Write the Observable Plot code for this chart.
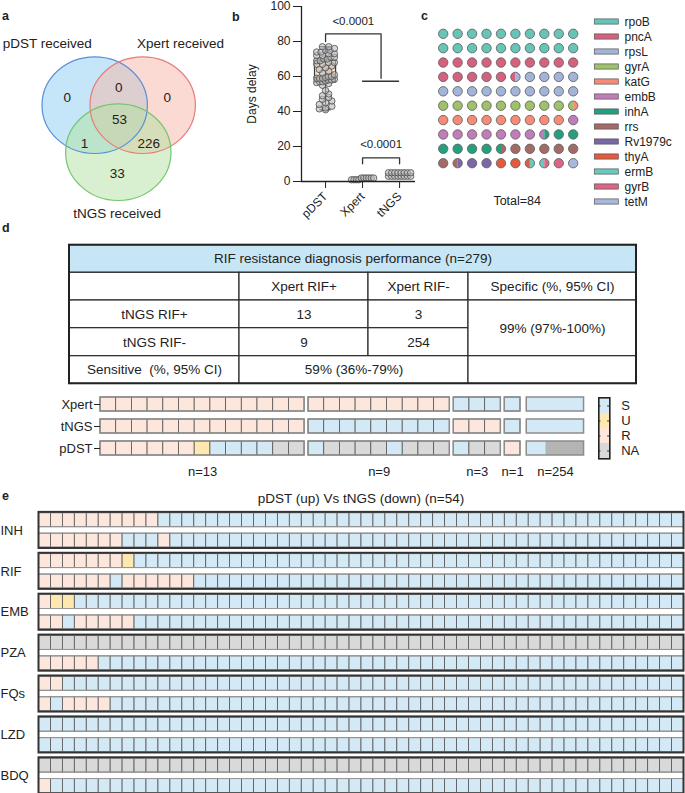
<!DOCTYPE html>
<html><head><meta charset="utf-8">
<script src="https://cdn.jsdelivr.net/npm/d3@7"></script>
<script src="https://cdn.jsdelivr.net/npm/@observablehq/plot@0.6"></script>
<style>
body{margin:0;background:#fff;}
#fig{position:relative;width:685px;height:793px;overflow:hidden;font-family:"Liberation Sans",Arial,Helvetica,sans-serif;color:#222;background:#fff;}
</style></head><body><div id="fig"></div>
<script>
// ================= DATA =================
// Panel a (Venn)
const vennSets = ["pDST received", "Xpert received", "tNGS received"];
const vennRegions = ["pDST only", "pDST & Xpert", "Xpert only", "all three", "pDST & tNGS", "Xpert & tNGS", "tNGS only"];
const vennCounts = [0, 0, 0, 53, 1, 226, 33];

// Panel b (days delay)
const boxCats = ["pDST", "Xpert", "tNGS"];
const pdstDays = [41,41.5,42,43,44,45,46,47,48,49,50,52,55,56,56.5,57,57,57.5,58,58,58.5,59,59,59,59.5,60,60,61,62,63,64,65,66,67,67,68,68,69,69,70,70,71,71,72,72,73,73,74,74,75,75,76,77,77];
const xpertDays = [1,1,1,1,2,2,2,2,2,2];
const tngsDays = [3,3,3,3,3,3,3,3,5,5,5,5,5,5,5,5];
const pdstBox = {min: 41, q1: 56.6, median: 59.4, q3: 69, max: 77};
const pValues = ["<0.0001", "<0.0001"];

// Panel c (mutated genes, % of 100 dots)
const genes = ["rpoB","pncA","rpsL","gyrA","katG","embB","inhA","rrs","Rv1979c","thyA","ermB","gyrB","tetM"];
const genePercent = [20, 15.5, 14.5, 9.5, 9.5, 8.5, 7, 7, 2.5, 2.5, 1, 1.5, 1];
const totalLabel = "Total=84";

// Panel d (table)
const tblTitle = "RIF resistance diagnosis performance (n=279)";
const tblColHeads = ["Xpert RIF+", "Xpert RIF-"];
const tblRowHeads = ["tNGS RIF+", "tNGS RIF-"];
const tblCounts = [[13, 3], [9, 254]];
const tblSpecific = ["Specific (%, 95% CI)", "99% (97%-100%)"];
const tblSensitive = ["Sensitive\u00a0 (%, 95% CI)", "59% (36%-79%)"];

// Panel d (heat strip)
const heatRows = ["Xpert", "tNGS", "pDST"];
const heatGroupCounts = [13, 9, 3, 1, 254];
const heatXpert = ["RRRRRRRRRRRRR", "RRRRRRRRR", "SSS", "S", "S"];
const heatTngs  = ["RRRRRRRRRRRRR", "SSSSSSSSS", "RRR", "S", "S"];
const heatPdst  = ["RRRRRRUSSSSNN", "SNNNNSNNN", "SNN", "R", "SNN"];
const statusDomain = ["S", "U", "R", "NA"];

// Panel e
const drugs = ["INH", "RIF", "EMB", "PZA", "FQs", "LZD", "BDQ"];
const pdstRuns = ["10R 44S", "7R 1U 46S", "1R 2U 51S", "54NA", "2R 52S", "54S", "54NA"];
const tngsRuns = ["7R 3S 1R 43S", "6R 1S 6R 41S", "2R 1S 5R 46S", "5R 49S", "1R 1S 4R 48S", "54S", "1R 53S"];
const eTitle = "pDST (up) Vs tNGS (down) (n=54)";

// ================= STYLES / LAYOUT =================
const FONT = '"Liberation Sans", Arial, Helvetica, sans-serif';
const baseStyle = {fontFamily: FONT, fontSize: "12px", color: "#222", background: "transparent"};
const vennFill = ["#8ccdf2", "#f6b5a5", "#b2e2a0"];
const vennStroke = ["#5a8fd8", "#e87c7c", "#75c56f"];
const geneColors = ["#66c5b8","#d6617f","#a3b4db","#9dc26a","#f98a76","#c17dba","#23a07f","#a46a65","#7a67a8","#e35b3e","#65cbbd","#dc6486","#a7b8de"];
const statusColors = ["#d3e9f6", "#fde8b0", "#fde7dd", "#d9d9d9"];
const statusScale = {domain: statusDomain, range: statusColors};

const fig = document.getElementById("fig");
function place(svg, left, top) {
  svg.style.position = "absolute";
  svg.style.left = left + "px";
  svg.style.top = top + "px";
  svg.style.maxWidth = "none";
  svg.style.overflow = "visible";
  svg.style.background = "transparent";
  fig.appendChild(svg);
}
function htmlText(text, left, baseline, size, weight, width, align) {
  const d = document.createElement("div");
  d.textContent = text;
  d.style.cssText = `position:absolute;left:${left}px;top:${baseline - size * 0.85}px;font-size:${size}px;font-weight:${weight};line-height:${size}px;white-space:nowrap;font-family:${FONT};` + (width ? `width:${width}px;text-align:${align};` : "");
  fig.appendChild(d);
}

// ================= PANEL A =================
const VL = {cx: [94.2, 142.2, 117.8], cy: [104.7, 104.7, 151.7], rx: 52.7, ry: 48.3,
  setX: [46.7, 180, 116.7], setY: [43.3, 43.3, 212.7],
  regX: [66.7, 118.3, 166.7, 119, 84, 148.3, 116.7], regY: [97.3, 87.3, 96.7, 119, 142.7, 143.3, 172.7]};
const ellipseSymbol = {
  draw(ctx, size) {
    const rx = Math.sqrt(size / Math.PI), ry = rx * VL.ry / VL.rx, k = 0.5523;
    ctx.moveTo(rx, 0);
    ctx.bezierCurveTo(rx, ry * k, rx * k, ry, 0, ry);
    ctx.bezierCurveTo(-rx * k, ry, -rx, ry * k, -rx, 0);
    ctx.bezierCurveTo(-rx, -ry * k, -rx * k, -ry, 0, -ry);
    ctx.bezierCurveTo(rx * k, -ry, rx, -ry * k, rx, 0);
    ctx.closePath();
  }
};
place(Plot.plot({
  width: 230, height: 225, margin: 0, style: baseStyle,
  x: {type: "linear", domain: [0, 230], range: [0, 230], axis: null},
  y: {type: "linear", domain: [0, 225], range: [0, 225], axis: null},
  color: {type: "identity"},
  marks: [
    Plot.dot(vennSets, {x: (d, i) => VL.cx[i], y: (d, i) => VL.cy[i], r: VL.rx, symbol: ellipseSymbol, fill: (d, i) => vennFill[i], fillOpacity: 0.5}),
    Plot.dot(vennSets, {x: (d, i) => VL.cx[i], y: (d, i) => VL.cy[i], r: VL.rx, symbol: ellipseSymbol, fill: "none", stroke: (d, i) => vennStroke[i], strokeWidth: 1.2}),
    Plot.text(vennSets, {x: (d, i) => VL.setX[i], y: (d, i) => VL.setY[i], text: d => d, fontSize: 13.5, fill: "#222"}),
    Plot.text(vennCounts, {x: (d, i) => VL.regX[i], y: (d, i) => VL.regY[i], text: d => String(d), fontSize: 13.5, fill: "#222"})
  ]
}), 0, 0);

// ================= PANEL B =================
const BL = {half: 0.285, cap: 0.15, xmin: 0.35, xmax: 3.43};
function swarm(values, ci, bin, step, half) {
  const out = [];
  for (const [, vs] of d3.groups(values, v => Math.round(v / bin))) {
    const n = vs.length, s = n > 1 ? Math.min(step, 2 * half / (n - 1)) : 0;
    vs.forEach((v, j) => out.push({cat: boxCats[ci], x: ci + 1 + (j - (n - 1) / 2) * s, v}));
  }
  return out;
}
const bPoints = [...swarm(pdstDays, 0, 2.5, 0.17, 0.24), ...swarm(xpertDays, 1, 10, 0.1, 0.3), ...swarm(tngsDays, 2, 2, 0.1, 0.3)];
const bracket1 = [{x: 1, y: 80}, {x: 1, y: 84.4}, {x: 2.5, y: 84.4}, {x: 2.5, y: 59}];
const bracket2 = [{x: 2, y: 10.1}, {x: 2, y: 13.5}, {x: 3, y: 13.5}, {x: 3, y: 10.1}];
place(Plot.plot({
  width: 200, height: 215, marginLeft: 71, marginRight: 15, marginTop: 6, marginBottom: 34, style: baseStyle,
  x: {domain: [BL.xmin, BL.xmax]},
  y: {domain: [0, 100]},
  marks: [
    Plot.rect([pdstBox], {x1: 1 - BL.half, x2: 1 + BL.half, y1: "q1", y2: "q3", fill: "#fbe1c4", stroke: "#3a3a3a", strokeWidth: 1.2}),
    Plot.ruleX([pdstBox], {x: 1, y1: "min", y2: "q1", stroke: "#333", strokeWidth: 1.2}),
    Plot.ruleX([pdstBox], {x: 1, y1: "q3", y2: "max", stroke: "#333", strokeWidth: 1.2}),
    Plot.ruleY([pdstBox.min, pdstBox.max], {x1: 1 - BL.cap, x2: 1 + BL.cap, stroke: "#333", strokeWidth: 1.2}),
    Plot.ruleY([pdstBox.median], {x1: 1 - BL.half, x2: 1 + BL.half, stroke: "#333", strokeWidth: 1.6}),
    Plot.dot(bPoints, {x: "x", y: "v", r: 3.2, fill: "#bdbdbd", fillOpacity: 0.6, stroke: "#4d4d4d", strokeWidth: 0.8}),
    Plot.ruleX([BL.xmin], {y1: 0, y2: 100, stroke: "#222", strokeWidth: 1.3}),
    Plot.ruleY([0], {x1: BL.xmin, x2: BL.xmax, stroke: "#222", strokeWidth: 1.3}),
    Plot.axisY({ticks: d3.range(0, 101, 20), tickSize: 8, tickPadding: 3, fontSize: 12, label: "Days delay", labelAnchor: "center", labelOffset: 54, labelArrow: "none"}),
    Plot.axisX({ticks: [1, 2, 3], tickFormat: i => boxCats[i - 1], tickRotate: -45, tickSize: 7, fontSize: 12, label: null}),
    Plot.line(bracket1, {x: "x", y: "y", stroke: "#333", strokeWidth: 1.3}),
    Plot.ruleY([57.3], {x1: 2, x2: 3, stroke: "#333", strokeWidth: 1.3}),
    Plot.line(bracket2, {x: "x", y: "y", stroke: "#333", strokeWidth: 1.3}),
    Plot.text([pValues[0]], {x: 1.75, y: 91.5, text: d => d, fontSize: 11.5, fill: "#222"}),
    Plot.text([pValues[1]], {x: 2.5, y: 21.3, text: d => d, fontSize: 11.5, fill: "#222"})
  ]
}), 230, 0);

// ================= PANEL C =================
const halves = [];
genes.forEach((g, i) => { for (let k = 0; k < genePercent[i] * 2; k++) halves.push(g); });
const waffle = d3.range(halves.length / 2).map(d => ({col: d % 10, row: Math.floor(d / 10), left: halves[2 * d], right: halves[2 * d + 1]}));
const fullDots = waffle.filter(d => d.left === d.right);
const splitDots = waffle.filter(d => d.left !== d.right);
const leftHalf = {draw(ctx, size) { const r = Math.sqrt(size / Math.PI); ctx.moveTo(0, -r); ctx.arc(0, 0, r, -Math.PI / 2, Math.PI / 2, true); ctx.closePath(); }};
const rightHalf = {draw(ctx, size) { const r = Math.sqrt(size / Math.PI); ctx.moveTo(0, -r); ctx.arc(0, 0, r, -Math.PI / 2, Math.PI / 2, false); ctx.closePath(); }};
const CR = 4.7;
place(Plot.plot({
  width: 170, height: 215, marginLeft: 22.7, marginRight: 17.3, marginTop: 0, marginBottom: 15, style: baseStyle,
  x: {domain: [0, 9], range: [22.7, 152.7], axis: null},
  y: {domain: [0, 9], range: [33.3, 162.7], axis: null},
  color: {domain: genes, range: geneColors},
  marks: [
    Plot.dot(fullDots, {x: "col", y: "row", r: CR, fill: "left"}),
    Plot.dot(splitDots, {x: "col", y: "row", r: CR, fill: "left", symbol: leftHalf}),
    Plot.dot(splitDots, {x: "col", y: "row", r: CR, fill: "right", symbol: rightHalf}),
    Plot.dot(waffle, {x: "col", y: "row", r: CR, fill: "none", stroke: "#666", strokeWidth: 0.9}),
    Plot.text([totalLabel], {frameAnchor: "bottom", lineAnchor: "middle", text: d => d, dx: 9, fontSize: 12.5, fill: "#222"})
  ]
}), 420, 0);

// legend c
place(Plot.plot({
  width: 95, height: 215, margin: 0, style: baseStyle,
  x: {domain: [0, 95], range: [0, 95], axis: null},
  y: {domain: genes, range: [7.75, 214.65], padding: 0, axis: null},
  color: {domain: genes, range: geneColors},
  marks: [
    Plot.barX(genes, {x1: 4.3, x2: 28.3, y: d => d, fill: d => d, stroke: "#555", strokeWidth: 0.7, insetTop: 4.9, insetBottom: 4.9}),
    Plot.text(genes, {x: 34, y: d => d, text: d => d, textAnchor: "start", fontSize: 12, fill: "#222"})
  ]
}), 590, 0);

// ================= PANEL D TABLE =================
const TL = {colPx: [69, 239, 368, 468, 636], rowPx: [4.7, 32.3, 60, 87.7, 115.7, 143.3]};
const tCells = [
  {c1: 0, c2: 4, r1: 0, r2: 1, text: tblTitle, head: true},
  {c1: 0, c2: 1, r1: 1, r2: 2, text: ""},
  {c1: 1, c2: 2, r1: 1, r2: 2, text: tblColHeads[0]},
  {c1: 2, c2: 3, r1: 1, r2: 2, text: tblColHeads[1]},
  {c1: 3, c2: 4, r1: 1, r2: 2, text: tblSpecific[0]}
];
tblRowHeads.forEach((h, i) => {
  tCells.push({c1: 0, c2: 1, r1: 2 + i, r2: 3 + i, text: h});
  tblCounts[i].forEach((v, j) => tCells.push({c1: 1 + j, c2: 2 + j, r1: 2 + i, r2: 3 + i, text: String(v)}));
});
tCells.push({c1: 3, c2: 4, r1: 2, r2: 4, text: tblSpecific[1]});
tCells.push({c1: 0, c2: 1, r1: 4, r2: 5, text: tblSensitive[0]});
tCells.push({c1: 1, c2: 3, r1: 4, r2: 5, text: tblSensitive[1]});
tCells.push({c1: 3, c2: 4, r1: 4, r2: 5, text: ""});
const tsx = d3.scaleLinear(d3.range(5), TL.colPx), tsy = d3.scaleLinear(d3.range(6), TL.rowPx);
const midX = d => tsx.invert((tsx(d.c1) + tsx(d.c2)) / 2), midY = d => tsy.invert((tsy(d.r1) + tsy(d.r2)) / 2);
place(Plot.plot({
  width: 685, height: 150, margin: 0, style: baseStyle,
  x: {type: "linear", domain: d3.range(5), range: TL.colPx, axis: null},
  y: {type: "linear", domain: d3.range(6), range: TL.rowPx, axis: null},
  color: {type: "identity"},
  marks: [
    Plot.rect(tCells, {x1: "c1", x2: "c2", y1: "r1", y2: "r2", fill: d => d.head ? "#c7e6f5" : "#ffffff", stroke: "#2b2b2b", strokeWidth: 1.2}),
    Plot.rect([tblTitle], {x1: 0, x2: 4, y1: 0, y2: 5, fill: "none", stroke: "#222", strokeWidth: 2}),
    Plot.text(tCells, {x: midX, y: midY, text: "text", fontSize: 13.5, fill: "#222"})
  ]
}), 0, 240);

// ================= PANEL D HEAT STRIP =================
const HL = {gap: 0.25, aggGap: 0.4, aggWidth: 3.65};
const code = c => c === "N" ? "NA" : c;
const hGroups = [];
let hpos = 0;
heatGroupCounts.forEach((n, k) => {
  const agg = n !== heatXpert[k].length;
  if (k > 0) hpos += agg ? HL.aggGap : HL.gap;
  const w = agg ? HL.aggWidth : n;
  hGroups.push({k, n, agg, x1: hpos, x2: hpos + w, label: `n=${n}`});
  hpos += w;
});
const hCells = [], hSegs = [], hOutlines = [];
[heatXpert, heatTngs, heatPdst].forEach((arr, ri) => {
  const row = heatRows[ri];
  hGroups.forEach(G => {
    const s = arr[G.k];
    hOutlines.push({row, x1: G.x1, x2: G.x2});
    if (!G.agg) {
      [...s].forEach((c, i) => hCells.push({row, x1: G.x1 + i, x2: G.x1 + i + 1, status: code(c)}));
    } else {
      const w = (G.x2 - G.x1) / s.length;
      let i = 0;
      while (i < s.length) { let j = i; while (j < s.length && s[j] === s[i]) j++; hSegs.push({row, x1: G.x1 + i * w, x2: G.x1 + j * w, status: code(s[i])}); i = j; }
    }
  });
});
place(Plot.plot({
  width: 590, height: 100, marginLeft: 100, marginRight: 3.3, marginTop: 0, marginBottom: 14, style: baseStyle,
  x: {domain: [0, 31], axis: null},
  y: {domain: heatRows, range: [4.6, 78.4], padding: 0.35},
  color: statusScale,
  marks: [
    Plot.barX(hCells, {x1: "x1", x2: "x2", y: "row", fill: "status", stroke: "#555", strokeWidth: 0.8}),
    Plot.barX(hSegs, {x1: "x1", x2: "x2", y: "row", fill: "status"}),
    Plot.barX(hSegs.filter(d => d.status === "NA"), {x1: "x1", x2: "x2", y: "row", fill: "#000", fillOpacity: 0.17}),
    Plot.barX(hOutlines, {x1: "x1", x2: "x2", y: "row", fill: "none", stroke: "#8c8c8c", strokeWidth: 1.5}),
    Plot.axisY({tickSize: 6, tickPadding: 2, fontSize: 13, label: null}),
    Plot.text(hGroups, {x: d => (d.x1 + d.x2) / 2, text: "label", frameAnchor: "bottom", lineAnchor: "middle", fontSize: 13, fill: "#222"})
  ]
}), 0, 385);

// legend d
place(Plot.plot({
  width: 95, height: 100, marginLeft: 8.3, marginRight: 75.7, marginTop: 12.3, marginBottom: 26.7, style: baseStyle,
  x: {domain: [0, 1], axis: null},
  y: {domain: statusDomain, padding: 0, axis: null},
  color: statusScale,
  marks: [
    Plot.barX(statusDomain, {x1: 0, x2: 1, y: d => d, fill: d => d}),
    Plot.ruleY(statusDomain, {y: d => d, x1: 0, x2: 0.2, stroke: "#333", strokeWidth: 1}),
    Plot.ruleY(statusDomain, {y: d => d, x1: 0.8, x2: 1, stroke: "#333", strokeWidth: 1}),
    Plot.frame({stroke: "#222", strokeWidth: 1.6}),
    Plot.text(statusDomain, {x: 1, y: d => d, text: d => d, textAnchor: "start", dx: 11.4, fontSize: 13, fill: "#222"})
  ]
}), 590, 385);

// ================= PANEL E =================
function expandRuns(s) {
  const out = [];
  for (const tok of s.split(" ")) { const m = tok.match(/^(\d+)(NA|S|U|R)$/); for (let k = 0; k < +m[1]; k++) out.push(m[2]); }
  return out;
}
const EL = {rowH: 0.685};
const eCells = [], eRows = [];
drugs.forEach((drug, g) => {
  [pdstRuns[g], tngsRuns[g]].forEach((runs, r) => {
    const row = 2 * g + r;
    eRows.push({row});
    expandRuns(runs).forEach((st, i) => eCells.push({x1: i, x2: i + 1, y1: row, y2: row + EL.rowH, status: st}));
  });
});
place(Plot.plot({
  width: 685, height: 313, marginLeft: 38.5, marginRight: 1.5, marginTop: 0, marginBottom: 0, style: baseStyle,
  x: {domain: [0, 54], range: [38.5, 683.5], axis: null},
  y: {domain: [0, 14], range: [32.7, 319], axis: null},
  color: statusScale,
  marks: [
    Plot.rect(eCells, {x1: "x1", x2: "x2", y1: "y1", y2: "y2", fill: "status", stroke: "#555", strokeWidth: 0.8}),
    Plot.rect(eRows, {x1: 0, x2: 54, y1: "row", y2: d => d.row + EL.rowH, fill: "none", stroke: "#999", strokeWidth: 1}),
    Plot.rect(drugs, {x1: 0, x2: 54, y1: (d, i) => 2 * i - 0.04, y2: (d, i) => 2 * i + 1 + EL.rowH + 0.04, fill: "none", stroke: "#333", strokeWidth: 2}),
    Plot.text(drugs, {y: (d, i) => 2 * i + (1 + EL.rowH) / 2, text: d => d, frameAnchor: "left", textAnchor: "start", dx: -38.5, fontSize: 13, fill: "#222"})
  ]
}), 0, 480);

// ================= TEXT LABELS =================
htmlText("a", 2, 20.7, 12.5, "bold");
htmlText("b", 232, 21.7, 12.5, "bold");
htmlText("c", 421, 20.7, 12.5, "bold");
htmlText("d", 2, 233, 12.5, "bold");
htmlText("e", 2, 500.5, 12.5, "bold");
htmlText(eTitle, 161, 503, 13.5, "normal", 400, "center");
</script></body></html>
